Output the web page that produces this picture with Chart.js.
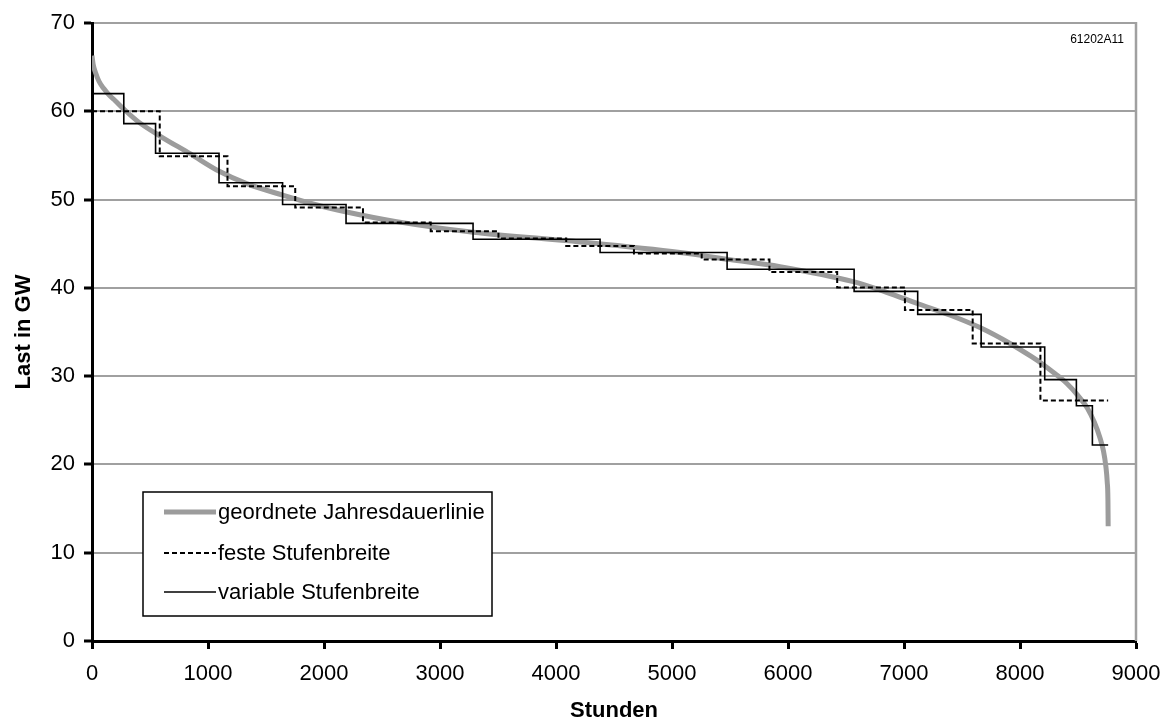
<!DOCTYPE html>
<html>
<head>
<meta charset="utf-8">
<script src="https://cdn.jsdelivr.net/npm/chart.js@4.4.1/dist/chart.umd.min.js"></script>
<style>
  html, body { margin: 0; padding: 0; background: #fff; }
  #wrap { width: 1168px; height: 722px; position: relative; }
</style>
</head>
<body>
<div id="wrap"><canvas id="c" width="1168" height="722"></canvas></div>
<script>
// ---- Data ----
// ordered annual load duration curve (hours, GW)
const curveHours = [0, 10, 30, 60, 100, 150, 200, 270, 400, 586, 845, 1097, 1333, 1644, 1906, 2195, 2626, 3287, 4207, 5069, 5500, 5931, 6563, 6850, 7121, 7400, 7655, 7914, 8100, 8201, 8300, 8402, 8500, 8580, 8640, 8690, 8720, 8740, 8752, 8758, 8760];
const curveLoad  = [66.3, 65.3, 64.4, 63.4, 62.6, 61.8, 61.2, 60.3, 58.8, 57.2, 55.2, 53.2, 51.8, 50.5, 49.5, 48.6, 47.5, 46.3, 45.2, 44.0, 43.2, 42.4, 40.7, 39.5, 38.2, 36.9, 35.5, 33.7, 32.2, 31.3, 30.3, 29.2, 27.8, 26.4, 24.8, 23.0, 21.5, 19.8, 18.0, 16.0, 13.0];

// fixed step width (15 steps of 584 h)
const fixedBounds = [0, 584, 1168, 1752, 2336, 2920, 3504, 4088, 4672, 5256, 5840, 6424, 7008, 7592, 8176, 8760];
const fixedLevels = [60.0, 54.9, 51.5, 49.1, 47.4, 46.4, 45.6, 44.75, 43.9, 43.2, 41.8, 40.05, 37.5, 33.7, 27.25];

// variable step width
const varBounds = [0, 274, 548, 1095, 1643, 2190, 3285, 4380, 5475, 6570, 7118, 7665, 8213, 8486, 8624, 8760];
const varLevels = [62.0, 58.6, 55.25, 51.9, 49.45, 47.3, 45.5, 44.0, 42.1, 39.6, 37.0, 33.3, 29.6, 26.65, 22.2];

const xTicks = [0, 1000, 2000, 3000, 4000, 5000, 6000, 7000, 8000, 9000];
const yTicks = [0, 10, 20, 30, 40, 50, 60, 70];

const seriesNames = ['geordnete Jahresdauerlinie', 'feste Stufenbreite', 'variable Stufenbreite'];
const chartCode = '61202A11';

// ---- build point tables ----
function stepPoints(bounds, levels) {
  const pts = levels.map((v, i) => ({x: bounds[i], y: v}));
  pts.push({x: bounds[bounds.length - 1], y: levels[levels.length - 1]});
  return pts;
}
const curvePts = curveHours.map((h, i) => ({x: h, y: curveLoad[i]}));

const FONT = '"Liberation Sans", Arial, Helvetica, sans-serif';

const legendPlugin = {
  id: 'boxLegend',
  afterDraw(chart) {
    const ctx = chart.ctx;
    const a = chart.chartArea;
    ctx.save();
    // right border of plot area
    ctx.strokeStyle = '#a0a0a0';
    ctx.lineWidth = 2.5;
    ctx.beginPath();
    ctx.moveTo(a.right, a.top - 1);
    ctx.lineTo(a.right, a.bottom);
    ctx.stroke();

    // legend box
    const bx = 143, by = 492, bw = 349, bh = 124;
    ctx.fillStyle = '#fff';
    ctx.fillRect(bx, by, bw, bh);
    ctx.strokeStyle = '#000';
    ctx.lineWidth = 1.5;
    ctx.strokeRect(bx, by, bw, bh);
    const rows = [512, 553, 592];
    chart.data.datasets.forEach((ds, i) => {
      const y = rows[i];
      ctx.strokeStyle = ds.borderColor;
      ctx.lineWidth = ds.borderWidth;
      ctx.setLineDash(ds.borderDash || []);
      ctx.lineCap = 'butt';
      ctx.beginPath();
      ctx.moveTo(164, y);
      ctx.lineTo(216, y);
      ctx.stroke();
      ctx.setLineDash([]);
      ctx.fillStyle = '#000';
      ctx.font = '22px ' + FONT;
      ctx.textBaseline = 'middle';
      ctx.textAlign = 'left';
      ctx.fillText(ds.label, 218, y + 1);
    });

    // code label
    ctx.font = '12px ' + FONT;
    ctx.fillStyle = '#000';
    ctx.textAlign = 'right';
    ctx.textBaseline = 'middle';
    ctx.fillText(chartCode, 1124, 40);
    ctx.restore();
  }
};

new Chart(document.getElementById('c'), {
  type: 'line',
  data: {
    datasets: [
      {
        label: seriesNames[0],
        data: curvePts,
        borderColor: '#9c9c9c',
        borderWidth: 5,
        pointRadius: 0,
        cubicInterpolationMode: 'monotone',
        order: 3
      },
      {
        label: seriesNames[1],
        data: stepPoints(fixedBounds, fixedLevels),
        borderColor: '#000',
        borderWidth: 2,
        borderDash: [5, 3],
        stepped: true,
        pointRadius: 0,
        order: 2
      },
      {
        label: seriesNames[2],
        data: stepPoints(varBounds, varLevels),
        borderColor: '#000',
        borderWidth: 1.6,
        stepped: true,
        pointRadius: 0,
        order: 1
      }
    ]
  },
  options: {
    responsive: false,
    animation: false,
    layout: { padding: { top: 23, right: 32, left: 0, bottom: 0 } },
    plugins: { legend: { display: false }, tooltip: { enabled: false } },
    scales: {
      x: {
        type: 'linear',
        min: xTicks[0],
        max: xTicks[xTicks.length - 1],
        afterBuildTicks: s => { s.ticks = xTicks.map(v => ({value: v})); },
        afterFit: s => { s.height = 81; s.paddingRight = 0; s.paddingLeft = 0; },
        ticks: { color: '#000', font: { family: FONT, size: 22 }, padding: 12, maxRotation: 0, autoSkip: false, callback: v => String(v) },
        grid: { drawOnChartArea: false, drawTicks: true, tickLength: 8, tickWidth: 3, tickColor: '#000' },
        border: { display: true, color: '#000', width: 3 },
        title: { display: true, text: 'Stunden', color: '#000', font: { family: FONT, size: 22, weight: 'bold', lineHeight: 1 }, padding: { top: 0, bottom: 0 } }
      },
      y: {
        type: 'linear',
        min: yTicks[0],
        max: yTicks[yTicks.length - 1],
        afterBuildTicks: s => { s.ticks = yTicks.map(v => ({value: v})); },
        afterFit: s => { s.width = 92; s.paddingTop = 0; s.paddingBottom = 0; },
        ticks: { color: '#000', font: { family: FONT, size: 22 }, padding: 9, callback: v => String(v) },
        grid: {
          drawOnChartArea: true,
          color: ctx => ctx.tick && ctx.tick.value === 0 ? 'rgba(0,0,0,0)' : '#a0a0a0',
          lineWidth: 2,
          drawTicks: true, tickLength: 8, tickWidth: 3, tickColor: '#000'
        },
        border: { display: true, color: '#000', width: 3 },
        title: { display: true, text: 'Last in GW', color: '#000', font: { family: FONT, size: 22, weight: 'bold', lineHeight: 1 }, padding: { top: 13, bottom: 0 } }
      }
    }
  },
  plugins: [legendPlugin]
});
</script>
</body>
</html>
